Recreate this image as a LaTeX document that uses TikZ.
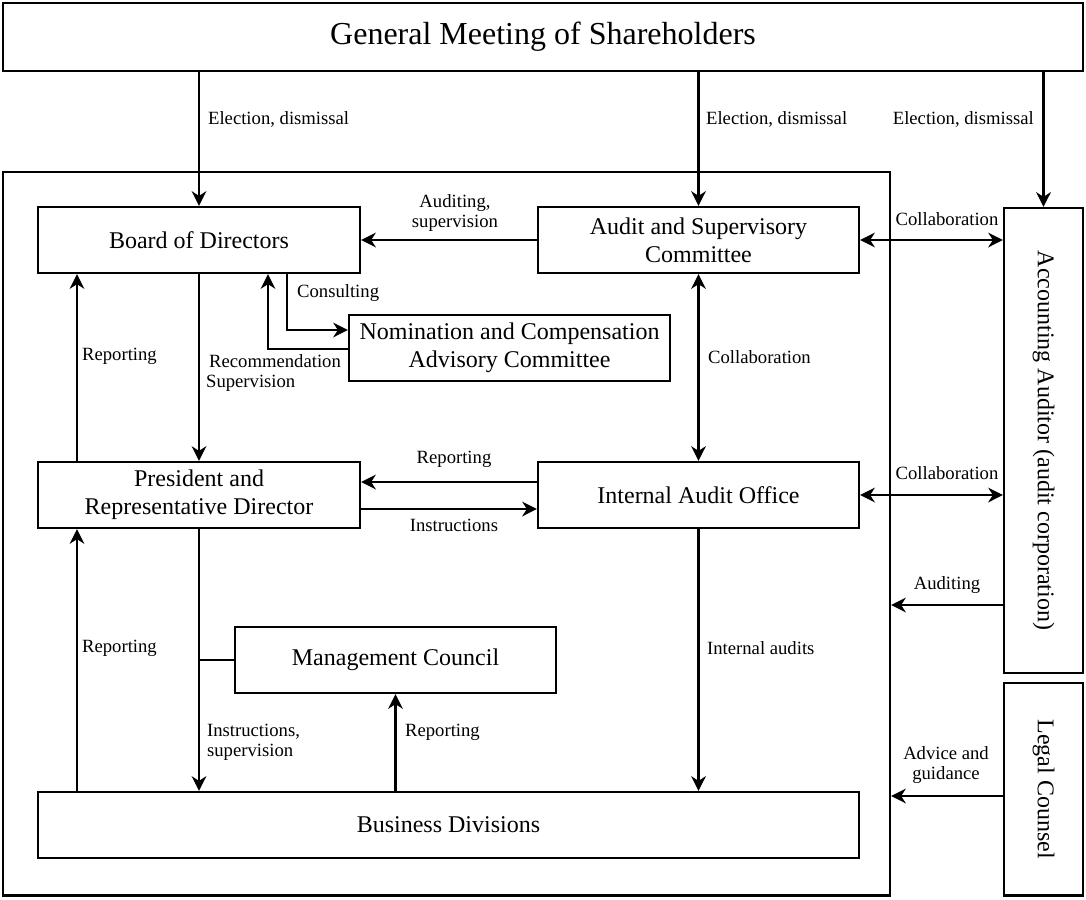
\documentclass[tikz,border=0pt]{standalone}
\usepackage{fontspec}
\setmainfont{Liberation Serif}
\usetikzlibrary{arrows.meta}
\begin{document}
\begin{tikzpicture}[x=0.75bp,y=-0.75bp,line width=1.7bp,
  tip/.tip={Stealth[length=11bp,width=11bp,inset=3.5bp]},
  arr/.style={-tip},
  darr/.style={tip-tip},
  box/.style={draw,rectangle,inner sep=0pt,align=center,
    font=\fontsize{18bp}{21bp}\selectfont},
  lbl/.style={inner sep=0pt,align=center,font=\fontsize{14bp}{15bp}\selectfont}]
\useasboundingbox (0,0) rectangle (1086,899);
% boxes
\node[box,minimum width=1080*0.75bp,minimum height=68*0.75bp,font=\fontsize{24bp}{28bp}\selectfont] (gm) at (543,37) {General Meeting of Shareholders};
\node[box,minimum width=887*0.75bp,minimum height=723.5*0.75bp] (org) at (446.5,533.75) {};
\node[box,minimum width=322*0.75bp,minimum height=66*0.75bp] (bod) at (199,240) {Board of Directors};
\node[box,minimum width=321*0.75bp,minimum height=66*0.75bp] (asc) at (698.5,240) {Audit and Supervisory\\Committee};
\node[box,minimum width=321*0.75bp,minimum height=66*0.75bp] (nom) at (509.5,348) {Nomination and Compensation\\Advisory Committee};
\node[box,minimum width=322*0.75bp,minimum height=66*0.75bp] (pres) at (199,495) {President and\\Representative Director};
\node[box,minimum width=321*0.75bp,minimum height=66*0.75bp] (iao) at (698.5,495) {Internal Audit Office};
\node[box,minimum width=321*0.75bp,minimum height=66*0.75bp] (mc) at (395.5,660) {Management Council};
\node[box,minimum width=821*0.75bp,minimum height=66*0.75bp] (bd) at (448.5,825) {Business Divisions};
\node[box,rotate=-90,minimum width=465*0.75bp,minimum height=79*0.75bp] (aa) at (1043.5,440.5) {Accounting Auditor (audit corporation)};
\node[box,rotate=-90,minimum width=212.5*0.75bp,minimum height=79*0.75bp] (lc) at (1043.5,789.25) {Legal Counsel};
% helper coordinates
\coordinate (cA) at (77,0);
\coordinate (cR) at (268,0);
\coordinate (cC) at (287,0);
\coordinate (rCons) at (0,330);
\coordinate (rRec) at (0,349);
\coordinate (rRep) at (0,482);
\coordinate (rIns) at (0,509);
\coordinate (rAud) at (0,605);
\coordinate (rAdv) at (0,796);
% connectors
\draw[arr] (gm.south -| bod.north) -- (bod.north);
\draw[arr] (gm.south -| asc.north) -- (asc.north);
\draw[arr] (gm.south -| aa.west) -- (aa.west);
\draw[arr] (asc.west) -- (bod.east);
\draw[arr] (bod.south -| cC) |- (nom.west |- rCons);
\draw[arr] (nom.west |- rRec) -| (bod.south -| cR);
\draw[darr] (asc.south) -- (iao.north);
\draw[arr] (pres.north -| cA) -- (bod.south -| cA);
\draw[arr] (bod.south) -- (pres.north);
\draw[arr] (iao.west |- rRep) -- (pres.east |- rRep);
\draw[arr] (pres.east |- rIns) -- (iao.west |- rIns);
\draw[darr] (asc.east) -- (aa.south |- asc.east);
\draw[darr] (iao.east) -- (aa.south |- iao.east);
\draw[arr] (aa.south |- rAud) -- (org.east |- rAud);
\draw[arr] (lc.south |- rAdv) -- (org.east |- rAdv);
\draw[arr] (pres.south) -- (bd.north -| pres.south);
\draw (mc.west) -- (mc.west -| pres.south);
\draw[arr] (bd.north -| mc.south) -- (mc.south);
\draw[arr] (bd.north -| cA) -- (pres.south -| cA);
\draw[arr] (iao.south) -- (bd.north -| iao.south);
% labels
\node[lbl,anchor=west] (l1) at (207,119) {Election, dismissal};
\node[lbl,anchor=west] (l2) at (705,119) {Election, dismissal};
\node[lbl,anchor=east] (l3) at (1035,119) {Election, dismissal};
\node[lbl] (l4) at (455,213) {Auditing,\\supervision};
\node[lbl,anchor=west] (l5) at (296,293) {Consulting};
\node[lbl,anchor=east] (l6) at (342,361) {Recommendation};
\node[lbl,anchor=west] (l7) at (81,356) {Reporting};
\node[lbl,anchor=west] (l8) at (205,383) {Supervision};
\node[lbl,anchor=west] (l9) at (707,357) {Collaboration};
\node[lbl] (l10) at (454,459) {Reporting};
\node[lbl] (l11) at (454,525) {Instructions};
\node[lbl] (l12) at (947,219) {Collaboration};
\node[lbl] (l13) at (947,473) {Collaboration};
\node[lbl] (l14) at (947,585) {Auditing};
\node[lbl,anchor=west] (l15) at (81,648) {Reporting};
\node[lbl,anchor=west] (l16) at (706,648) {Internal audits};
\node[lbl,anchor=west,align=left] (l17) at (206,742) {Instructions,\\supervision};
\node[lbl,anchor=west] (l18) at (404,732) {Reporting};
\node[lbl] (l19) at (946,765) {Advice and\\guidance};
\end{tikzpicture}
\end{document}
